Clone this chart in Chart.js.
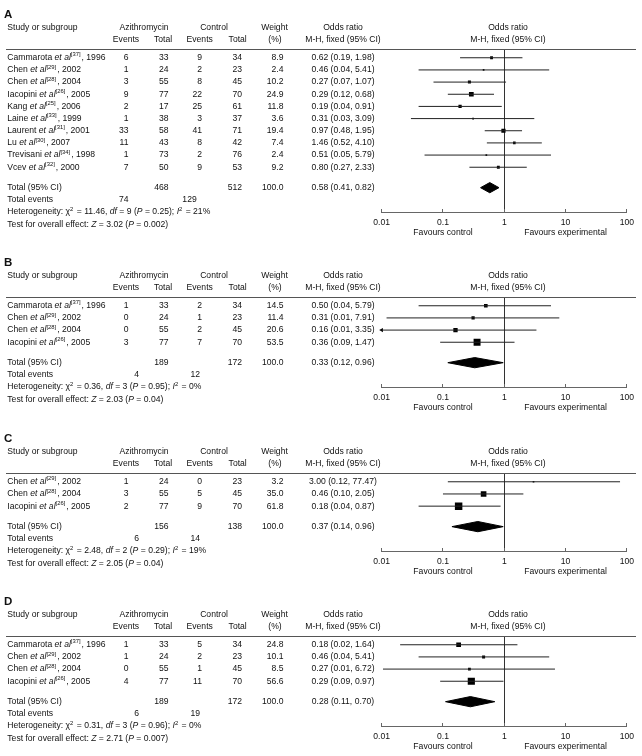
<!DOCTYPE html>
<html>
<head>
<meta charset="utf-8">
<script src="https://cdn.jsdelivr.net/npm/chart.js@4.4.0/dist/chart.umd.min.js"></script>
<style>
  html, body { margin: 0; padding: 0; background: #fff; }
  #wrap { position: relative; width: 642px; height: 756px; overflow: hidden; }
  canvas { position: absolute; left: 0; }
</style>
</head>
<body>
<div id="wrap">
  <canvas id="pA"></canvas>
  <canvas id="pB"></canvas>
  <canvas id="pC"></canvas>
  <canvas id="pD"></canvas>
</div>
<script>
// axis
const tickValues = [0.01, 0.1, 1, 10, 100];
const tickLabels = ['0.01', '0.1', '1', '10', '100'];

// A
const authA = ['Cammarota', 'Chen', 'Chen', 'Iacopini', 'Kang', 'Laine', 'Laurent', 'Lu', 'Trevisani', 'Vcev'];
const refA = [37, 29, 28, 26, 25, 33, 31, 30, 34, 32];
const yearA = [1996, 2002, 2004, 2005, 2006, 1999, 2001, 2007, 1998, 2000];
const evAzA = [6, 1, 3, 9, 2, 1, 33, 11, 1, 7];
const totAzA = [33, 24, 55, 77, 17, 38, 58, 43, 73, 50];
const evCtA = [9, 2, 8, 22, 25, 3, 41, 8, 2, 9];
const totCtA = [34, 23, 45, 70, 61, 37, 71, 42, 76, 53];
const weightA = [8.9, 2.4, 10.2, 24.9, 11.8, 3.6, 19.4, 7.4, 2.4, 9.2];
const orA = [0.62, 0.46, 0.27, 0.29, 0.19, 0.31, 0.97, 1.46, 0.51, 0.80];
const loA = [0.19, 0.04, 0.07, 0.12, 0.04, 0.03, 0.48, 0.52, 0.05, 0.27];
const hiA = [1.98, 5.41, 1.07, 0.68, 0.91, 3.09, 1.95, 4.10, 5.79, 2.33];
const totalA = [468, 512, 0.58, 0.41, 0.82];   // n azithro, n control, OR, lo, hi
const eventsA = [74, 129];
const hetA = [11.46, 9, 0.25, 21];             // chi2, df, P, I2
const zA = [3.02, 0.002];

// B
const authB = ['Cammarota', 'Chen', 'Chen', 'Iacopini'];
const refB = [37, 29, 28, 26];
const yearB = [1996, 2002, 2004, 2005];
const evAzB = [1, 0, 0, 3];
const totAzB = [33, 24, 55, 77];
const evCtB = [2, 1, 2, 7];
const totCtB = [34, 23, 45, 70];
const weightB = [14.5, 11.4, 20.6, 53.5];
const orB = [0.50, 0.31, 0.16, 0.36];
const loB = [0.04, 0.012, 0.008, 0.09];
const hiB = [5.79, 7.91, 3.35, 1.47];
const totalB = [189, 172, 0.33, 0.12, 0.96];
const eventsB = [4, 12];
const hetB = [0.36, 3, 0.95, 0];
const zB = [2.03, 0.04];

// C
const authC = ['Chen', 'Chen', 'Iacopini'];
const refC = [29, 28, 26];
const yearC = [2002, 2004, 2005];
const evAzC = [1, 3, 2];
const totAzC = [24, 55, 77];
const evCtC = [0, 5, 9];
const totCtC = [23, 45, 70];
const weightC = [3.2, 35.0, 61.8];
const orC = [3.00, 0.46, 0.18];
const loC = [0.12, 0.10, 0.04];
const hiC = [77.47, 2.05, 0.87];
const totalC = [156, 138, 0.37, 0.14, 0.96];
const eventsC = [6, 14];
const hetC = [2.48, 2, 0.29, 19];
const zC = [2.05, 0.04];

// D
const authD = ['Cammarota', 'Chen', 'Chen', 'Iacopini'];
const refD = [37, 29, 28, 26];
const yearD = [1996, 2002, 2004, 2005];
const evAzD = [1, 1, 0, 4];
const totAzD = [33, 24, 55, 77];
const evCtD = [5, 2, 1, 11];
const totCtD = [34, 23, 45, 70];
const weightD = [24.8, 10.1, 8.5, 56.6];
const orD = [0.18, 0.46, 0.27, 0.29];
const loD = [0.02, 0.04, 0.0105, 0.09];
const hiD = [1.64, 5.41, 6.72, 0.97];
const totalD = [189, 172, 0.28, 0.11, 0.70];
const eventsD = [6, 19];
const hetD = [0.31, 3, 0.96, 0];
const zD = [2.71, 0.007];

const FAM = '"Liberation Sans", Arial, sans-serif';
const FS = 8.6;
const INK = '#111';

Chart.defaults.font.family = FAM;
Chart.defaults.font.size = FS;
Chart.defaults.color = INK;

// text with italic / superscript pieces: [text, style]
function rich(ctx, parts, x, y, align) {
  const fonts = { n: FS + 'px ' + FAM, i: 'italic ' + FS + 'px ' + FAM, s: (FS * 0.68) + 'px ' + FAM };
  let w = 0;
  parts.forEach(([t, s]) => { ctx.font = fonts[s || 'n']; w += ctx.measureText(t).width; });
  let cx = align === 'center' ? x - w / 2 : align === 'right' ? x - w : x;
  ctx.textAlign = 'left';
  parts.forEach(([t, s]) => {
    ctx.font = fonts[s || 'n'];
    ctx.fillText(t, cx, s === 's' ? y - 3 : y);
    cx += ctx.measureText(t).width + (s === 's' ? 1 : 0);
  });
}

const orText = (e, l, h) => e.toFixed(2) + ' (' + l.toFixed(2) + ', ' + h.toFixed(2) + ')';

function tablePlugin(p) {
  return {
    id: 'table' + p.letter,
    afterDraw(chart) {
      const ctx = chart.ctx;
      const ys = chart.scales.y, xs = chart.scales.x;
      const top = chart.chartArea.top, bottom = chart.chartArea.bottom;
      const n = p.auth.length;
      ctx.save();
      ctx.fillStyle = INK;
      ctx.textBaseline = 'middle';

      ctx.font = 'bold 11.5px ' + FAM;
      ctx.textAlign = 'left';
      ctx.fillText(p.letter, 4, top - 34.5);

      ctx.strokeStyle = '#555';
      ctx.lineWidth = 1;
      ctx.beginPath();
      ctx.moveTo(6, top + 0.5);
      ctx.lineTo(636, top + 0.5);
      ctx.stroke();

      const h1 = top - 21.5, h2 = top - 9.5;
      rich(ctx, [['Study or subgroup']], 7.3, h1, 'left');
      rich(ctx, [['Azithromycin']], 144, h1, 'center');
      rich(ctx, [['Control']], 214, h1, 'center');
      rich(ctx, [['Weight']], 274.5, h1, 'center');
      rich(ctx, [['Odds ratio']], 343, h1, 'center');
      rich(ctx, [['Odds ratio']], 508, h1, 'center');
      rich(ctx, [['Events']], 126, h2, 'center');
      rich(ctx, [['Total']], 163, h2, 'center');
      rich(ctx, [['Events']], 199.7, h2, 'center');
      rich(ctx, [['Total']], 237.7, h2, 'center');
      rich(ctx, [['(%)']], 275, h2, 'center');
      rich(ctx, [['M-H, fixed (95% CI)']], 343, h2, 'center');
      rich(ctx, [['M-H, fixed (95% CI)']], 508, h2, 'center');

      for (let i = 0; i < n; i++) {
        const y = ys.getPixelForValue(i);
        rich(ctx, [[p.auth[i] + ' '], ['et al', 'i'], ['[' + p.ref[i] + ']', 's'], [', ' + p.year[i]]], 7.3, y, 'left');
        rich(ctx, [[String(p.ev1[i])]], 128.5, y, 'right');
        rich(ctx, [[String(p.n1[i])]], 168.5, y, 'right');
        rich(ctx, [[String(p.ev2[i])]], 202, y, 'right');
        rich(ctx, [[String(p.n2[i])]], 242, y, 'right');
        rich(ctx, [[p.w[i].toFixed(1)]], 283.5, y, 'right');
        rich(ctx, [[orText(p.or[i], p.lo[i], p.hi[i])]], 343, y, 'center');
      }

      const [nAz, nCt, est, lo, hi] = p.total;
      let y = ys.getPixelForValue(n + 0.68);
      rich(ctx, [['Total (95% CI)']], 7.3, y, 'left');
      rich(ctx, [[String(nAz)]], 168.5, y, 'right');
      rich(ctx, [[String(nCt)]], 242, y, 'right');
      rich(ctx, [['100.0']], 283.5, y, 'right');
      rich(ctx, [[orText(est, lo, hi)]], 343, y, 'center');

      y = ys.getPixelForValue(n + 1.68);
      rich(ctx, [['Total events']], 7.3, y, 'left');
      rich(ctx, [[String(p.events[0])]], p.evX[0], y, 'right');
      rich(ctx, [[String(p.events[1])]], p.evX[1], y, 'right');

      const [chi, df, ph, i2] = p.het;
      y = ys.getPixelForValue(n + 2.68);
      rich(ctx, [['Heterogeneity: \u03c7'], ['2', 's'], [' = ' + chi.toFixed(2) + ', '], ['df', 'i'],
        [' = ' + df + ' ('], ['P', 'i'], [' = ' + ph + '); '], ['I', 'i'], ['2', 's'], [' = ' + i2 + '%']], 7.3, y, 'left');

      y = ys.getPixelForValue(n + 3.68);
      rich(ctx, [['Test for overall effect: '], ['Z', 'i'], [' = ' + p.z[0].toFixed(2) + ' ('], ['P', 'i'], [' = ' + p.z[1] + ')']], 7.3, y, 'left');

      rich(ctx, [['Favours control']], xs.getPixelForValue(0.1), bottom + 21, 'center');
      rich(ctx, [['Favours experimental']], xs.getPixelForValue(10), bottom + 21, 'center');
      ctx.restore();
    }
  };
}

function buildPanel(id, p) {
  const n = p.auth.length;
  const rowPx = 12.2, padTop = 40, axisH = 30;
  const areaH = Math.round((n + 3.4) * rowPx);
  const canvas = document.getElementById(id);
  canvas.width = 642;
  canvas.height = padTop + areaH + axisH;
  canvas.style.top = (p.top - padTop) + 'px';

  const rows = p.auth.map((_, i) => i);
  const totalRow = n + 0.68;
  const datasets = [];

  // confidence interval whiskers
  rows.forEach(i => datasets.push({
    type: 'line',
    data: [{ x: p.lo[i], y: i }, { x: p.hi[i], y: i }],
    borderColor: '#222', borderWidth: 1, pointRadius: 0, fill: false
  }));

  // study squares, area follows weight
  datasets.push({
    type: 'scatter',
    data: rows.map(i => ({ x: p.or[i], y: i })),
    pointStyle: 'rect',
    pointRadius: p.w.map(w => Math.max(1.2, 0.95 * Math.sqrt(w) / Math.SQRT2)),
    pointBackgroundColor: '#000', pointBorderWidth: 0
  });

  // arrows for intervals running past the axis
  const cut = rows.filter(i => p.lo[i] < tickValues[0]);
  if (cut.length) {
    datasets.push({
      type: 'scatter',
      data: cut.map(i => ({ x: tickValues[0], y: i })),
      pointStyle: 'triangle', pointRotation: 270, pointRadius: 2.5,
      pointBackgroundColor: '#000', pointBorderWidth: 0, clip: false
    });
  }

  // pooled diamond: upper half filled down to lower half
  const [nAz, nCt, est, lo, hi] = p.total;
  datasets.push({
    type: 'line',
    data: [{ x: lo, y: totalRow }, { x: est, y: totalRow - 0.42 }, { x: hi, y: totalRow }],
    borderColor: '#000', backgroundColor: '#000', borderWidth: 1, pointRadius: 0, fill: '+1'
  });
  datasets.push({
    type: 'line',
    data: [{ x: lo, y: totalRow }, { x: est, y: totalRow + 0.42 }, { x: hi, y: totalRow }],
    borderColor: '#000', borderWidth: 1, pointRadius: 0, fill: false
  });

  new Chart(canvas, {
    type: 'scatter',
    data: { datasets: datasets },
    options: {
      responsive: false,
      animation: false,
      events: [],
      layout: { padding: { left: 381.7, right: 10.3, top: padTop, bottom: 0 } },
      plugins: { legend: { display: false }, tooltip: { enabled: false } },
      scales: {
        x: {
          type: 'logarithmic',
          min: tickValues[0],
          max: tickValues[tickValues.length - 1],
          afterBuildTicks: s => { s.ticks = tickValues.map(v => ({ value: v })); },
          afterFit: s => { s.height = axisH; },
          ticks: {
            autoSkip: false, maxRotation: 0, padding: 8, color: INK,
            font: { size: FS, family: FAM },
            callback: (v, i) => tickLabels[i]
          },
          grid: {
            color: c => (c.tick && c.tick.value === 1) ? '#333' : 'rgba(0,0,0,0)',
            tickColor: '#666', tickLength: -3, drawTicks: true, lineWidth: 1
          },
          border: { color: '#666', width: 1 }
        },
        y: {
          type: 'linear', display: false, reverse: true,
          min: -0.72, max: n + 2.68
        }
      }
    },
    plugins: [tablePlugin(p)]
  });
}

buildPanel('pA', { letter: 'A', top: 49, auth: authA, ref: refA, year: yearA, ev1: evAzA, n1: totAzA, ev2: evCtA, n2: totCtA,
  w: weightA, or: orA, lo: loA, hi: hiA, total: totalA, events: eventsA, het: hetA, z: zA, evX: [128.5, 196.7] });
buildPanel('pB', { letter: 'B', top: 297, auth: authB, ref: refB, year: yearB, ev1: evAzB, n1: totAzB, ev2: evCtB, n2: totCtB,
  w: weightB, or: orB, lo: loB, hi: hiB, total: totalB, events: eventsB, het: hetB, z: zB, evX: [139, 200] });
buildPanel('pC', { letter: 'C', top: 473, auth: authC, ref: refC, year: yearC, ev1: evAzC, n1: totAzC, ev2: evCtC, n2: totCtC,
  w: weightC, or: orC, lo: loC, hi: hiC, total: totalC, events: eventsC, het: hetC, z: zC, evX: [139, 200] });
buildPanel('pD', { letter: 'D', top: 636, auth: authD, ref: refD, year: yearD, ev1: evAzD, n1: totAzD, ev2: evCtD, n2: totCtD,
  w: weightD, or: orD, lo: loD, hi: hiD, total: totalD, events: eventsD, het: hetD, z: zD, evX: [139, 200] });
</script>
</body>
</html>
